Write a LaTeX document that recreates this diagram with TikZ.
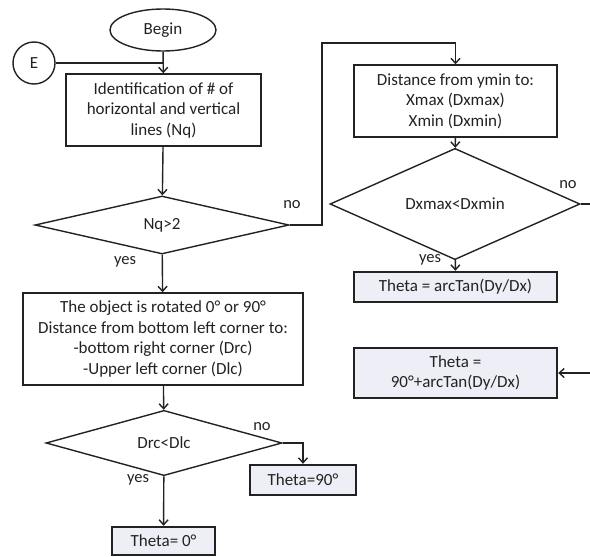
\documentclass[tikz,border=0pt]{standalone}
\usepackage{fontspec}
\setmainfont{Carlito}
\usetikzlibrary{shapes.geometric,arrows.meta}
\definecolor{ink}{HTML}{222222}
\definecolor{resfill}{HTML}{EEEEF7}
\begin{document}
\begin{tikzpicture}[x=1pt,y=-1pt,
  font=\fontsize{17}{20.5}\selectfont, text=ink,
  line/.style={draw=ink, line width=1.4pt},
  flow/.style={line, -{Straight Barb[length=5pt,width=9pt]}},
  proc/.style={line, rectangle, align=center, inner sep=0pt},
  result/.style={proc, line width=2.4pt, fill=resfill},
  decide/.style={line, diamond, inner sep=0pt},
  lbl/.style={font=\fontsize{16.5}{18}\selectfont}]
\useasboundingbox (0,0) rectangle (590,557);
\clip (0,0) rectangle (590,557);

% left column
\node[line, ellipse, minimum width=106, minimum height=42, inner sep=0pt] (begin) at (163,30) {Begin};
\node[line, circle, minimum size=42, inner sep=0pt] (E) at (34,63) {E};
\node[proc, minimum width=195, minimum height=72] (ident) at (163.5,110)
  {Identification of \# of\\horizontal and vertical\\lines (Nq)};
\node[decide, minimum width=254, minimum height=58] (nq) at (162,225) {Nq>2};
\node[proc, minimum width=280, minimum height=92] (rot) at (163,339)
  {The object is rotated 0° or 90°\\Distance from bottom left corner to:\\-bottom right corner (Drc)\\-Upper left corner (Dlc)};
\node[decide, minimum width=236, minimum height=60] (dr) at (164,443) {Drc<Dlc};
\node[result, minimum width=106, minimum height=30] (t90) at (303,480) {Theta=90°};
\node[result, minimum width=103, minimum height=28] (t0) at (163.5,541) {Theta= 0°};

% right column
\node[proc, minimum width=203, minimum height=72] (dist) at (455.5,101)
  {Distance from ymin to:\\Xmax (Dxmax)\\Xmin (Dxmin)};
\node[decide, minimum width=250, minimum height=58] (dx) at (455,204) {Dxmax<Dxmin};
\node[result, minimum width=203, minimum height=30] (tarc) at (455.5,287) {Theta = arcTan(Dy/Dx)};
\node[result, minimum width=203, minimum height=50] (t90arc) at (455.5,373) {Theta =\\90°+arcTan(Dy/Dx)};

% routing points
\coordinate (nqbend) at (322,43);
\coordinate (dxturn) at (605,290);

% connectors
\draw[flow] (begin) -- (ident);
\draw[line] (E) -- (E -| ident.north);
\draw[flow] (ident) -- (nq);
\draw[flow] (nq.east) -| (nqbend) -| (dist.north);
\draw[flow] (nq) -- (rot);
\draw[flow] (rot) -- (dr);
\draw[flow] (dr.east) -| (t90.north);
\draw[flow] (dr) -- (t0);
\draw[flow] (dist) -- (dx);
\draw[flow] (dx) -- (tarc);
\draw[flow] (dx.east) -| (dxturn) |- (t90arc.east);

% branch labels
\node[lbl] (nqno) at (292,205) {no};
\node[lbl] (nqyes) at (125,262) {yes};
\node[lbl] (dxno) at (568,185) {no};
\node[lbl] (dxyes) at (430,260) {yes};
\node[lbl] (drno) at (262,427) {no};
\node[lbl] (dryes) at (138,480) {yes};
\end{tikzpicture}
\end{document}
